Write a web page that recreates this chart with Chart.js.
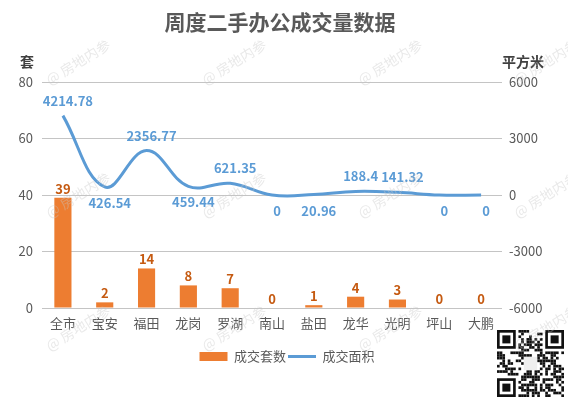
<!DOCTYPE html>
<html>
<head>
<meta charset="utf-8">
<script src="https://cdn.jsdelivr.net/npm/chart.js@4"></script>
<style>
  html, body { margin: 0; padding: 0; background: #fff; }
</style>
</head>
<body>
<canvas id="myChart" width="568" height="398"></canvas>
<script>
// chart data
const districts = ['全市', '宝安', '福田', '龙岗', '罗湖', '南山', '盐田', '龙华', '光明', '坪山', '大鹏'];
const dealCounts = [39, 2, 14, 8, 7, 0, 1, 4, 3, 0, 0];
const dealAreas = [4214.78, 426.54, 2356.77, 459.44, 621.35, 0, 20.96, 188.4, 141.32, 0, 0];
const countTicks = [0, 20, 40, 60, 80];
const areaTicks = [-6000, -3000, 0, 3000, 6000];

// which side of the curve each area label sits on
const areaLabelSide = ['above', 'below', 'above', 'below', 'above', 'below', 'below', 'above', 'above', 'below', 'below'];

const FONT = "'Noto Sans CJK SC', 'Noto Sans', sans-serif";
const BAR_COLOR = '#ED7D31';
const LINE_COLOR = '#5B9BD5';
const TEXT_COLOR = '#595959';

Chart.defaults.font.family = FONT;
Chart.defaults.color = TEXT_COLOR;

// rough stand-in for the QR code in the corner
function drawQr(ctx, x0, y0, size) {
    const n = 25, m = size / n;
    ctx.fillStyle = '#fff';
    ctx.fillRect(x0, y0, size, size);
    ctx.fillStyle = '#111';
    const finder = (fx, fy) => {
        ctx.fillRect(x0 + fx * m, y0 + fy * m, 7 * m, 7 * m);
        ctx.fillStyle = '#fff';
        ctx.fillRect(x0 + (fx + 1) * m, y0 + (fy + 1) * m, 5 * m, 5 * m);
        ctx.fillStyle = '#111';
        ctx.fillRect(x0 + (fx + 2) * m, y0 + (fy + 2) * m, 3 * m, 3 * m);
    };
    for (let r = 0; r < n; r++) {
        for (let c = 0; c < n; c++) {
            const inFinder = (r < 8 && c < 8) || (r < 8 && c > n - 9) || (r > n - 9 && c < 8);
            const inLogo = r > 9 && r < 15 && c > 9 && c < 15;
            if (inFinder || inLogo) continue;
            let h = Math.imul(r, 374761393) + Math.imul(c, 668265263);
            h = Math.imul(h ^ (h >>> 13), 1274126177);
            h ^= h >>> 16;
            if ((h & 1) === 0) ctx.fillRect(x0 + c * m, y0 + r * m, m, m);
        }
    }
    finder(0, 0);
    finder(n - 7, 0);
    finder(0, n - 7);
    ctx.fillStyle = '#eee';
    ctx.fillRect(x0 + 10 * m, y0 + 10 * m, 5 * m, 5 * m);
}

// title, axis captions, value labels and the watermark
const decorations = {
    id: 'decorations',
    afterDatasetsDraw(chart) {
        const ctx = chart.ctx;
        ctx.save();
        ctx.font = 'bold 13px ' + FONT;
        ctx.textAlign = 'center';
        ctx.textBaseline = 'middle';
        ctx.fillStyle = '#C55A11';
        chart.getDatasetMeta(0).data.forEach((bar, i) => {
            ctx.fillText(String(dealCounts[i]), bar.x, bar.y - 9);
        });
        ctx.fillStyle = LINE_COLOR;
        chart.getDatasetMeta(1).data.forEach((pt, i) => {
            const dy = areaLabelSide[i] === 'above' ? -15 : 16;
            ctx.fillText(String(dealAreas[i]), pt.x + 5, pt.y + dy);
        });
        ctx.restore();
    },
    afterDraw(chart) {
        const ctx = chart.ctx;
        ctx.save();
        ctx.textAlign = 'center';
        ctx.textBaseline = 'middle';
        ctx.fillStyle = TEXT_COLOR;
        ctx.font = 'bold 21px ' + FONT;
        ctx.fillText('周度二手办公成交量数据', 280, 22);
        ctx.fillStyle = '#404040';
        ctx.font = 'bold 14px ' + FONT;
        ctx.fillText('套', 27, 62);
        ctx.fillText('平方米', 523, 62);

        drawQr(ctx, 497, 330, 67);

        // faint watermark grid
        ctx.font = '14px ' + FONT;
        ctx.fillStyle = 'rgba(200,200,200,0.4)';
        [62, 195, 328].forEach(y => {
            [78, 234, 390, 546].forEach(x => {
                ctx.save();
                ctx.translate(x, y);
                ctx.rotate(-0.55);
                ctx.fillText('@ 房地内参', 0, 0);
                ctx.restore();
            });
        });
        ctx.restore();
    }
};

let ctx = document.getElementById('myChart');

let myChart = new Chart(ctx, {
    type: 'bar',
    data: {
        labels: districts,
        datasets: [{
            label: '成交套数',
            data: dealCounts,
            backgroundColor: BAR_COLOR,
            borderWidth: 0,
            barPercentage: 0.41,
            categoryPercentage: 1,
            pointStyle: 'rect',
            yAxisID: 'y'
        }, {
            type: 'line',
            label: '成交面积',
            data: dealAreas,
            borderColor: LINE_COLOR,
            backgroundColor: LINE_COLOR,
            borderWidth: 3,
            tension: 0.4,
            pointRadius: 0,
            pointStyle: 'line',
            clip: false,
            yAxisID: 'y1'
        }]
    },
    options: {
        responsive: false,
        animation: false,
        layout: {padding: {top: 82, right: 0, bottom: 25, left: 6}},
        plugins: {
            legend: {
                position: 'bottom',
                labels: {
                    usePointStyle: true,
                    pointStyleWidth: 28,
                    boxHeight: 9,
                    padding: 2,
                    color: TEXT_COLOR,
                    font: {size: 13}
                }
            },
            tooltip: {enabled: false}
        },
        scales: {
            x: {
                grid: {display: false, drawTicks: false},
                border: {display: false},
                ticks: {padding: 7, color: TEXT_COLOR, font: {size: 13}},
                afterFit(scale) { scale.height = 40; }
            },
            y: {
                position: 'left',
                min: countTicks[0],
                max: countTicks[countTicks.length - 1],
                ticks: {stepSize: countTicks[1] - countTicks[0], padding: 9, color: TEXT_COLOR, font: {size: 13}},
                grid: {color: '#C4C4C4', drawTicks: false},
                border: {display: false},
                afterFit(scale) { scale.width = 36; }
            },
            y1: {
                position: 'right',
                min: areaTicks[0],
                max: areaTicks[areaTicks.length - 1],
                ticks: {
                    stepSize: areaTicks[1] - areaTicks[0],
                    padding: 7,
                    color: TEXT_COLOR,
                    font: {size: 13},
                    callback: v => String(v)
                },
                grid: {display: false, drawTicks: false},
                border: {display: false},
                afterFit(scale) { scale.width = 66; }
            }
        }
    },
    plugins: [decorations]
});
</script>
</body>
</html>
